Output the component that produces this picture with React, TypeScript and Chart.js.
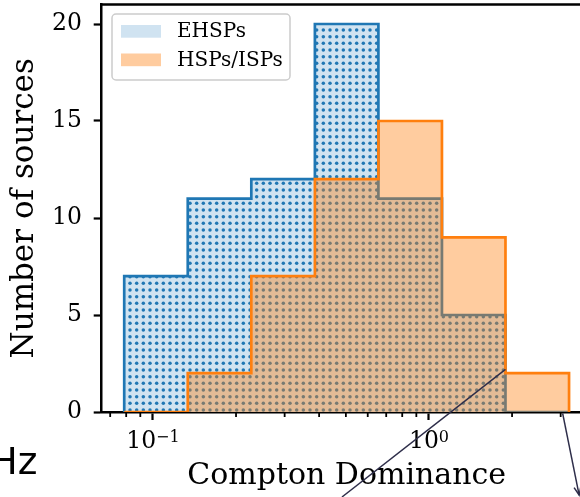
import React, { useEffect, useRef } from "react";
import { Chart, registerables } from "chart.js";

Chart.register(...registerables);

// ---- data ----
const binEdges = [0.0787, 0.1337, 0.2272, 0.3861, 0.6559, 1.1143, 1.893, 3.217];
const ehspCounts = [7, 11, 12, 20, 11, 5, 0];
const hspCounts = [0, 2, 7, 12, 15, 9, 2];
const seriesLabels = ["EHSPs", "HSPs/ISPs"];
const xMin = 0.06522;
const xMax = 3.883;
const yMin = 0;
const yMax = 21;
const yTickValues = [0, 5, 10, 15, 20];
const xMajorTicks = [0.1, 1];
const xMajorBase = ["10", "10"];
const xMajorExp = ["\u22121", "0"];
const xMinorTicks = [0.07, 0.08, 0.09, 0.2, 0.3, 0.4, 0.5, 0.6, 0.7, 0.8, 0.9, 2, 3];
const xTitle = "Compton Dominance";
const yTitle = "Number of sources";
// connector lines from the neighbouring panel (data coordinates)
const connectorStarts = [
  [1.893, 2.2],
  [3.05, -0.07],
];
const connectorEnds = [
  [0.484, -4.38],
  [3.5, -4.28],
];
const connectorArrow = [false, true];
const sideLabel = "Hz";

const FONT = "DejaVu Serif";
const BLUE = "#1f77b4";
const ORANGE = "#ff7f0e";
const BLUE_LIGHT = "#d0e3f1";
const ORANGE_FILL = "rgba(255,127,14,0.4)";
const ORANGE_LEGEND = "#ffcc9f";

function outline(edges: number[], counts: number[]) {
  const pts: { x: number; y: number }[] = [{ x: edges[0], y: 0 }];
  counts.forEach((c, i) => {
    pts.push({ x: edges[i], y: c });
    pts.push({ x: edges[i + 1], y: c });
  });
  pts.push({ x: edges[edges.length - 1], y: 0 });
  return pts;
}

function makeDots(ctx: CanvasRenderingContext2D) {
  const c = document.createElement("canvas");
  c.width = 20;
  c.height = 20;
  const g = c.getContext("2d")!;
  g.fillStyle = BLUE_LIGHT;
  g.fillRect(0, 0, 20, 20);
  g.fillStyle = BLUE;
  for (let i = 0; i < 3; i++) {
    for (let j = 0; j < 3; j++) {
      g.beginPath();
      g.arc(3.33 + 6.67 * i, 3.33 + 6.67 * j, 1.75, 0, Math.PI * 2);
      g.fill();
    }
  }
  return ctx.createPattern(c, "repeat")!;
}

const decorPlugin = {
  id: "decor",
  afterDraw(chart: any) {
    const { ctx, chartArea } = chart;
    const xs = chart.scales.x;
    const ys = chart.scales.y;
    ctx.save();
    // top & right spines
    ctx.strokeStyle = "#000";
    ctx.lineWidth = 2.5;
    ctx.beginPath();
    ctx.moveTo(chartArea.left - 1.25, chartArea.top);
    ctx.lineTo(chartArea.right, chartArea.top);
    ctx.lineTo(chartArea.right, chartArea.bottom);
    ctx.stroke();
    // minor ticks
    ctx.lineWidth = 1.8;
    xMinorTicks.forEach((v) => {
      const px = xs.getPixelForValue(v);
      ctx.beginPath();
      ctx.moveTo(px, chartArea.bottom);
      ctx.lineTo(px, chartArea.bottom + 5);
      ctx.stroke();
    });
    // x tick labels with superscript exponent
    ctx.fillStyle = "#000";
    ctx.textBaseline = "alphabetic";
    ctx.textAlign = "left";
    const baseY = chartArea.bottom + 36;
    xMajorTicks.forEach((v, i) => {
      const px = xs.getPixelForValue(v);
      ctx.font = `23.5px "${FONT}"`;
      const wb = ctx.measureText(xMajorBase[i]).width;
      ctx.font = `16px "${FONT}"`;
      const we = ctx.measureText(xMajorExp[i]).width;
      const x0 = px - (wb + we) / 2;
      ctx.font = `23.5px "${FONT}"`;
      ctx.fillText(xMajorBase[i], x0, baseY);
      ctx.font = `16px "${FONT}"`;
      ctx.fillText(xMajorExp[i], x0 + wb, baseY - 6);
    });
    // legend
    const bx = chartArea.left + 10.3;
    const by = chartArea.top + 9.4;
    const bw = 178;
    const bh = 66;
    ctx.beginPath();
    ctx.roundRect(bx, by, bw, bh, 4);
    ctx.fillStyle = "rgba(255,255,255,0.8)";
    ctx.fill();
    ctx.strokeStyle = "#cccccc";
    ctx.lineWidth = 1.5;
    ctx.stroke();
    const patchColors = [BLUE_LIGHT, ORANGE_LEGEND];
    ctx.font = `20px "${FONT}"`;
    ctx.textBaseline = "middle";
    ctx.textAlign = "left";
    seriesLabels.forEach((lab, i) => {
      const py = by + 11 + i * 28.5;
      ctx.fillStyle = patchColors[i];
      ctx.fillRect(bx + 9, py, 40, 12.7);
      ctx.fillStyle = "#000";
      ctx.fillText(lab, bx + 65, py + 6.8);
    });
    // connectors
    ctx.strokeStyle = "#2e2e4a";
    ctx.lineWidth = 1.5;
    connectorStarts.forEach((s, i) => {
      const x1 = xs.getPixelForValue(s[0]);
      const y1 = ys.getPixelForValue(s[1]);
      const x2 = xs.getPixelForValue(connectorEnds[i][0]);
      const y2 = ys.getPixelForValue(connectorEnds[i][1]);
      ctx.beginPath();
      ctx.moveTo(x1, y1);
      ctx.lineTo(x2, y2);
      ctx.stroke();
      if (connectorArrow[i]) {
        const a = Math.atan2(y2 - y1, x2 - x1);
        const L = 9;
        ctx.beginPath();
        ctx.moveTo(x2 - L * Math.cos(a - 0.4), y2 - L * Math.sin(a - 0.4));
        ctx.lineTo(x2, y2);
        ctx.lineTo(x2 - L * Math.cos(a + 0.4), y2 - L * Math.sin(a + 0.4));
        ctx.stroke();
      }
    });
    ctx.restore();
  },
};

export default function App() {
  const ref = useRef<HTMLCanvasElement | null>(null);
  useEffect(() => {
    const canvas = ref.current!;
    const ctx = canvas.getContext("2d")!;
    const dots = makeDots(ctx);
    const chart = new Chart(canvas, {
      type: "line",
      data: {
        datasets: [
          {
            label: seriesLabels[0],
            data: outline(binEdges, ehspCounts),
            borderColor: BLUE,
            backgroundColor: dots as any,
            borderWidth: 2.7,
            fill: "origin",
            order: 2,
          },
          {
            label: seriesLabels[1],
            data: outline(binEdges, hspCounts),
            borderColor: ORANGE,
            backgroundColor: ORANGE_FILL,
            borderWidth: 2.7,
            fill: "origin",
            order: 1,
          },
        ],
      },
      options: {
        animation: false,
        responsive: false,
        maintainAspectRatio: false,
        devicePixelRatio: 1,
        parsing: false as any,
        layout: { padding: { top: 4.6, right: 8.4, bottom: 0, left: 0 } },
        elements: {
          point: { radius: 0, hoverRadius: 0 },
          line: { tension: 0, borderJoinStyle: "miter", capBezierPoints: false },
        },
        plugins: { legend: { display: false }, tooltip: { enabled: false } },
        scales: {
          x: {
            type: "logarithmic",
            min: xMin,
            max: xMax,
            z: 1,
            afterBuildTicks: (s: any) => {
              s.ticks = xMajorTicks.map((v) => ({ value: v }));
            },
            afterFit: (s: any) => {
              s.height = 85;
              s.paddingLeft = 0;
              s.paddingRight = 0;
              s.paddingTop = 0;
              s.paddingBottom = 0;
            },
            ticks: { display: false, autoSkip: false, maxRotation: 0 },
            grid: {
              display: true,
              drawOnChartArea: false,
              drawTicks: true,
              tickLength: 8,
              tickWidth: 2.2,
              tickColor: "#000",
            },
            border: { display: true, color: "#000", width: 2.5 },
            title: {
              display: true,
              text: xTitle,
              color: "#000",
              font: { family: FONT, size: 30, lineHeight: 1.2 },
              padding: { top: 0, bottom: 2.3 },
            },
          },
          y: {
            type: "linear",
            min: yMin,
            max: yMax,
            z: 1,
            afterBuildTicks: (s: any) => {
              s.ticks = yTickValues.map((v) => ({ value: v }));
            },
            afterFit: (s: any) => {
              s.width = 101.7;
              s.paddingLeft = 0;
              s.paddingRight = 0;
              s.paddingTop = 0;
              s.paddingBottom = 0;
            },
            ticks: {
              color: "#000",
              padding: 11.7,
              font: { family: FONT, size: 23.5 },
              callback: (v: any) => String(v),
            },
            grid: {
              display: true,
              drawOnChartArea: false,
              drawTicks: true,
              tickLength: 8,
              tickWidth: 2.2,
              tickColor: "#000",
            },
            border: { display: true, color: "#000", width: 2.5 },
            title: {
              display: true,
              text: yTitle,
              color: "#000",
              font: { family: FONT, size: 31, lineHeight: 1.2 },
              padding: { top: 6.4, bottom: 0 },
            },
          },
        },
      } as any,
      plugins: [decorPlugin],
    });
    return () => chart.destroy();
  }, []);

  return (
    <div
      style={{
        position: "fixed",
        left: 0,
        top: 0,
        width: 580,
        height: 497,
        overflow: "hidden",
        background: "#fff",
      }}
    >
      <canvas ref={ref} width={600} height={497} style={{ display: "block", width: 600, height: 497 }} />
      <div
        style={{
          position: "absolute",
          left: -10.5,
          top: 443.3,
          fontFamily: '"DejaVu Sans"',
          fontSize: 37.5,
          lineHeight: 1,
          color: "#000",
          whiteSpace: "nowrap",
        }}
      >
        {sideLabel}
      </div>
    </div>
  );
}
